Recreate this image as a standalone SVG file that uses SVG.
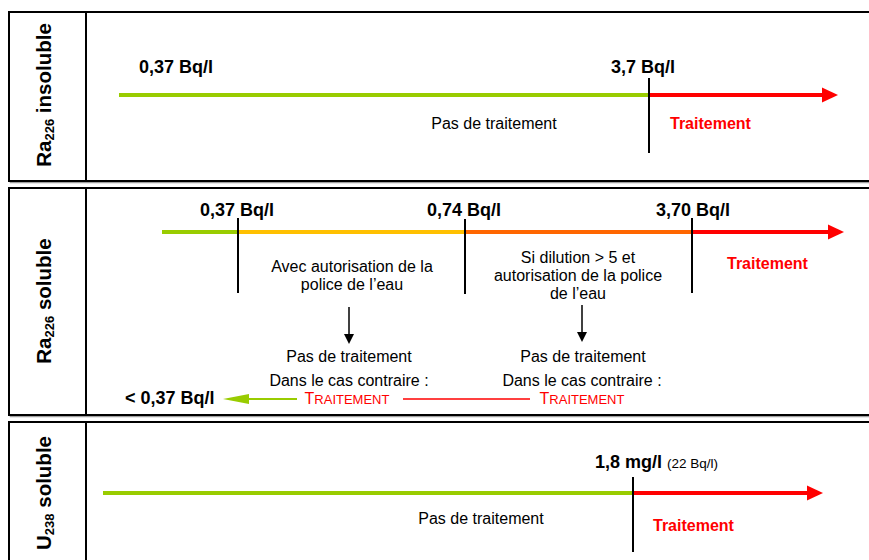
<svg xmlns="http://www.w3.org/2000/svg" width="869" height="560" viewBox="0 0 869 560">
<style>
.box{fill:#fff;stroke:#000;stroke-width:2}
.shadow{fill:none;stroke:#a0a0a0;stroke-width:1.5}
.div{stroke:#000;stroke-width:2}
.vl{font-family:"Liberation Sans",Arial,sans-serif;font-weight:bold;font-size:20.5px;fill:#000}
.sub{font-size:13px}
.val{font-family:"Liberation Sans",Arial,sans-serif;font-weight:bold;font-size:18px;fill:#000}
.txt{font-family:"Liberation Sans",Arial,sans-serif;font-size:16px;fill:#000}
.small{font-family:"Liberation Sans",Arial,sans-serif;font-size:13.5px;fill:#000}
.tr{font-family:"Liberation Sans",Arial,sans-serif;font-weight:bold;font-size:16px;fill:#ff0000}
.sc{font-family:"Liberation Sans",Arial,sans-serif;font-size:16px;fill:#ff0000}
.tick{stroke:#000;stroke-width:2}
.g{stroke:#99cc00;stroke-width:4}
.y{stroke:#ffc000;stroke-width:4}
.o{stroke:#ff6600;stroke-width:4}
.r{stroke:#ff0000;stroke-width:4}
</style>
<defs>
<marker id="ar" markerUnits="userSpaceOnUse" markerWidth="16" markerHeight="16" viewBox="0 0 16 16" refX="0" refY="8" orient="auto"><path d="M0,0.5 L16,8 L0,15.5 Z" fill="#ff0000"/></marker>
<marker id="ag" markerUnits="userSpaceOnUse" markerWidth="26" markerHeight="12" viewBox="0 0 26 12" refX="0" refY="6" orient="auto"><path d="M0,1 L26,6 L0,11 Z" fill="#99cc00"/></marker>
<marker id="ab" markerUnits="userSpaceOnUse" markerWidth="10" markerHeight="10" viewBox="0 0 10 10" refX="0" refY="5" orient="auto"><path d="M0,0 L10,5 L0,10 Z" fill="#000"/></marker>
</defs>
<rect width="869" height="560" fill="#fff"/>

<g id="row-ra-insoluble">
<rect class="shadow" x="10.5" y="13.5" width="880" height="169"/>
<rect class="box" x="9" y="12" width="880" height="169"/>
<line class="div" x1="86" y1="12" x2="86" y2="181"/>
<text class="vl" transform="translate(51,95) rotate(-90)" text-anchor="middle">Ra<tspan class="sub" dy="3">226</tspan><tspan dy="-3"> insoluble</tspan></text>
<text class="val" x="139" y="73">0,37 Bq/l</text>
<text class="val" x="611" y="73">3,7 Bq/l</text>
<text class="txt" x="494" y="129" text-anchor="middle">Pas de traitement</text>
<text class="tr" x="670" y="129">Traitement</text>
</g>

<g id="row-ra-soluble">
<rect class="shadow" x="10.5" y="189.5" width="880" height="227"/>
<rect class="box" x="9" y="188" width="880" height="227"/>
<line class="div" x1="86" y1="188" x2="86" y2="415"/>
<text class="vl" transform="translate(51,301) rotate(-90)" text-anchor="middle">Ra<tspan class="sub" dy="3">226</tspan><tspan dy="-3"> soluble</tspan></text>
<text class="val" x="200" y="216">0,37 Bq/l</text>
<text class="val" x="427" y="216">0,74 Bq/l</text>
<text class="val" x="656" y="216">3,70 Bq/l</text>
<text class="txt" x="352" y="272" text-anchor="middle">Avec autorisation de la</text>
<text class="txt" x="352" y="290" text-anchor="middle">police de l’eau</text>
<text class="txt" x="578" y="263" text-anchor="middle">Si dilution &gt; 5 et</text>
<text class="txt" x="578" y="281" text-anchor="middle">autorisation de la police</text>
<text class="txt" x="578" y="299" text-anchor="middle">de l’eau</text>
<text class="tr" x="727" y="269">Traitement</text>
<text class="txt" x="349" y="362" text-anchor="middle">Pas de traitement</text>
<text class="txt" x="349" y="386" text-anchor="middle">Dans le cas contraire :</text>
<text class="sc" x="347" y="404" text-anchor="middle">T<tspan font-size="13">RAITEMENT</tspan></text>
<text class="txt" x="583" y="362" text-anchor="middle">Pas de traitement</text>
<text class="txt" x="582" y="386" text-anchor="middle">Dans le cas contraire :</text>
<text class="sc" x="582" y="404" text-anchor="middle">T<tspan font-size="13">RAITEMENT</tspan></text>
<text class="val" x="125" y="404">&lt; 0,37 Bq/l</text>
</g>

<g id="row-u-soluble">
<rect class="shadow" x="10.5" y="423.5" width="880" height="150"/>
<rect class="box" x="9" y="422" width="880" height="150"/>
<line class="div" x1="86" y1="422" x2="86" y2="572"/>
<text class="vl" transform="translate(51,493) rotate(-90)" text-anchor="middle">U<tspan class="sub" dy="3">238</tspan><tspan dy="-3"> soluble</tspan></text>
<text class="val" x="595" y="468">1,8 mg/l <tspan class="small" font-weight="normal">(22 Bq/l)</tspan></text>
<text class="txt" x="481" y="524" text-anchor="middle">Pas de traitement</text>
<text class="tr" x="653" y="531">Traitement</text>
</g>

<g id="connectors">
<line class="g" x1="119" y1="95" x2="649" y2="95"/>
<line class="r" x1="649" y1="95" x2="822" y2="95" marker-end="url(#ar)"/>
<line class="tick" x1="649" y1="78" x2="649" y2="153"/>

<line class="g" x1="162" y1="232" x2="238" y2="232"/>
<line class="y" x1="238" y1="232" x2="465" y2="232"/>
<line class="o" x1="465" y1="232" x2="693" y2="232"/>
<line class="r" x1="693" y1="232" x2="828" y2="232" marker-end="url(#ar)"/>
<line class="tick" x1="238" y1="218" x2="238" y2="293"/>
<line class="tick" x1="465" y1="219" x2="465" y2="294"/>
<line class="tick" x1="692" y1="218" x2="692" y2="293"/>
<line stroke="#000" stroke-width="1.5" x1="349" y1="307" x2="349" y2="334" marker-end="url(#ab)"/>
<line stroke="#000" stroke-width="1.5" x1="582" y1="305" x2="582" y2="332" marker-end="url(#ab)"/>
<line stroke="#99cc00" stroke-width="2" x1="297" y1="399" x2="249" y2="399" marker-end="url(#ag)"/>
<line stroke="#ff0000" stroke-width="1.5" x1="403" y1="399" x2="530" y2="399"/>

<line class="g" x1="103" y1="493" x2="633" y2="493"/>
<line class="r" x1="633" y1="493" x2="807" y2="493" marker-end="url(#ar)"/>
<line class="tick" x1="633" y1="477" x2="633" y2="552"/>
</g>
</svg>
